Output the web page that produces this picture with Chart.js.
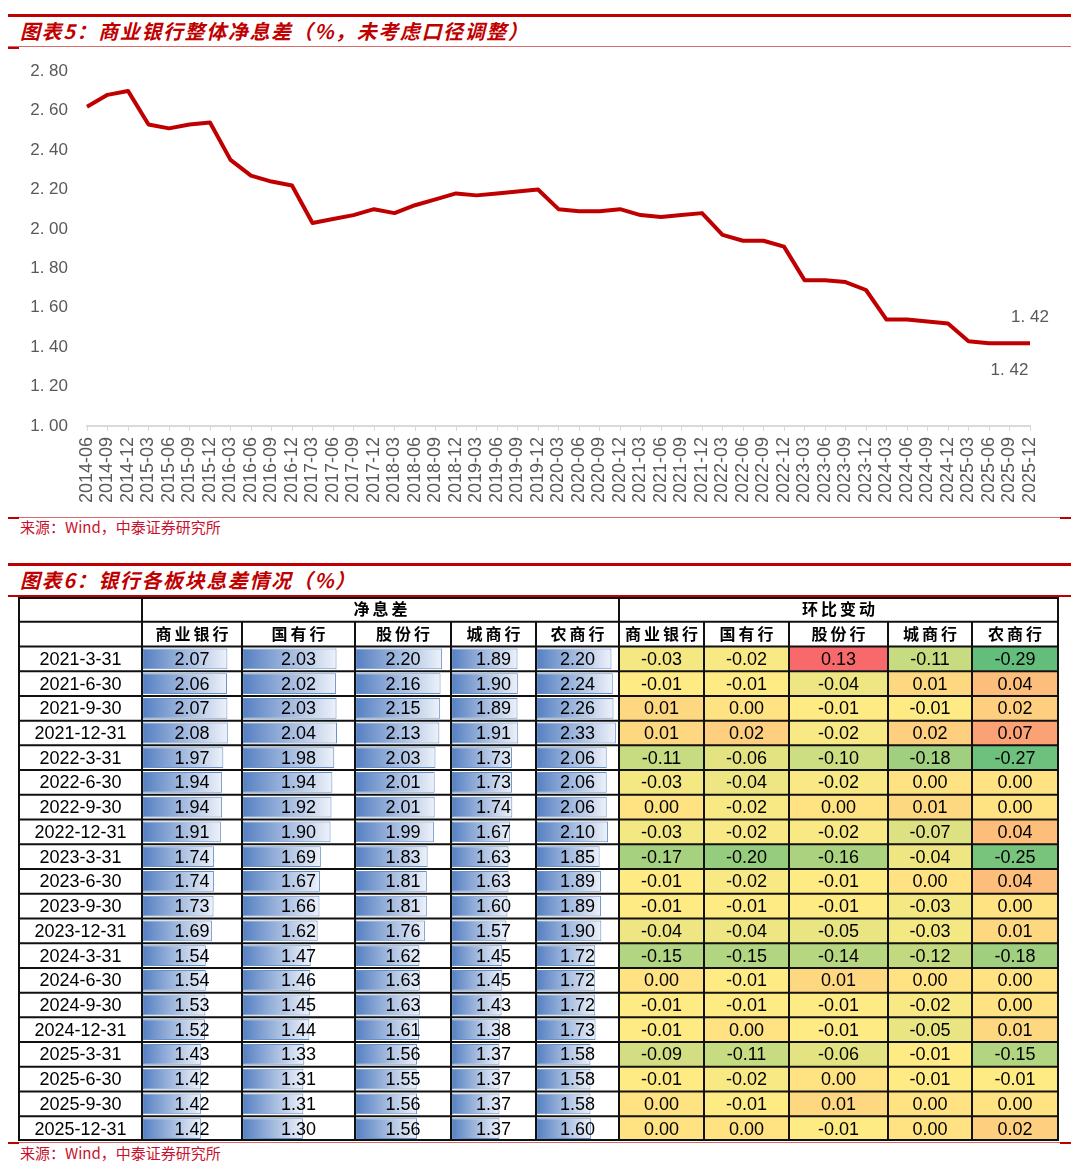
<!DOCTYPE html>
<html>
<head>
<meta charset="utf-8">
<script src="https://cdn.jsdelivr.net/npm/chart.js@4.4.1/dist/chart.umd.min.js"></script>
<style>
  body { margin: 0; background: #fff; width: 1080px; height: 1167px; position: relative; overflow: hidden; font-family: "Noto Sans CJK SC", sans-serif; }
  .thick { position: absolute; left: 8px; width: 1063px; height: 3px; background: #c00000; }
  .thin { position: absolute; left: 8px; width: 1063px; height: 1px; background: #d86a6a; }
  .dash { position: absolute; width: 11px; height: 2px; background: #c00000; }
  .title { position: absolute; left: 20px; font-size: 20px; letter-spacing: 1.6px; font-weight: bold; font-style: italic; color: #c00000; line-height: 1; white-space: nowrap; }
  .src { position: absolute; left: 20px; font-size: 15px; color: #c8102e; line-height: 1; white-space: nowrap; }
  #lineWrap { position: absolute; left: 0; top: 42px; width: 1080px; height: 473px; }
  #tableWrap { position: absolute; left: 0; top: 597px; width: 1080px; height: 544px; }
</style>
</head>
<body>
<div class="thick" style="top:14px"></div>
<div class="title" style="top:21px">图表5：商业银行整体净息差（%，未考虑口径调整）</div>
<div class="thin" style="top:46px"></div>
<div class="dash" style="left:8px;top:47px"></div>
<div id="lineWrap"><canvas id="lineChart"></canvas></div>
<div class="thin" style="top:517px"></div>
<div class="dash" style="left:8px;top:517px"></div>
<div class="dash" style="left:1060px;top:517px"></div>
<div class="src" style="top:519px">来源：Wind，中泰证券研究所</div>

<div class="thick" style="top:563px"></div>
<div class="title" style="top:570px">图表6：银行各板块息差情况（%）</div>
<div class="thick" style="top:595px;height:2px"></div>
<div id="tableWrap"><canvas id="tableChart"></canvas></div>
<div class="thin" style="top:1142px"></div>
<div class="dash" style="left:8px;top:1142px"></div>
<div class="dash" style="left:1060px;top:1142px"></div>
<div class="src" style="top:1145px">来源：Wind，中泰证券研究所</div>

<script>
// ---- chart 5: quarterly NIM of commercial banks ----
const quarters = [
  '2014-06', '2014-09', '2014-12',
  '2015-03', '2015-06', '2015-09', '2015-12',
  '2016-03', '2016-06', '2016-09', '2016-12',
  '2017-03', '2017-06', '2017-09', '2017-12',
  '2018-03', '2018-06', '2018-09', '2018-12',
  '2019-03', '2019-06', '2019-09', '2019-12',
  '2020-03', '2020-06', '2020-09', '2020-12',
  '2021-03', '2021-06', '2021-09', '2021-12',
  '2022-03', '2022-06', '2022-09', '2022-12',
  '2023-03', '2023-06', '2023-09', '2023-12',
  '2024-03', '2024-06', '2024-09', '2024-12',
  '2025-03', '2025-06', '2025-09', '2025-12'
];
const nimAll = [
  2.62, 2.68, 2.70,
  2.53, 2.51, 2.53, 2.54,
  2.35, 2.27, 2.24, 2.22,
  2.03, 2.05, 2.07, 2.10,
  2.08, 2.12, 2.15, 2.18,
  2.17, 2.18, 2.19, 2.20,
  2.10, 2.09, 2.09, 2.10,
  2.07, 2.06, 2.07, 2.08,
  1.97, 1.94, 1.94, 1.91,
  1.74, 1.74, 1.73, 1.69,
  1.54, 1.54, 1.53, 1.52,
  1.43, 1.42, 1.42, 1.42
];
const yTicks = { min: 1.0, max: 2.8, step: 0.2 };

// ---- chart 6: NIM by bank type ----
const dates = [
  '2021-3-31', '2021-6-30', '2021-9-30', '2021-12-31',
  '2022-3-31', '2022-6-30', '2022-9-30', '2022-12-31',
  '2023-3-31', '2023-6-30', '2023-9-30', '2023-12-31',
  '2024-3-31', '2024-6-30', '2024-9-30', '2024-12-31',
  '2025-3-31', '2025-6-30', '2025-9-30', '2025-12-31'
];
const bankTypes = ['商业银行', '国有行', '股份行', '城商行', '农商行'];
const groupNames = ['净息差', '环比变动'];

const nimCommercial = [2.07, 2.06, 2.07, 2.08, 1.97, 1.94, 1.94, 1.91, 1.74, 1.74, 1.73, 1.69, 1.54, 1.54, 1.53, 1.52, 1.43, 1.42, 1.42, 1.42];
const nimState      = [2.03, 2.02, 2.03, 2.04, 1.98, 1.94, 1.92, 1.90, 1.69, 1.67, 1.66, 1.62, 1.47, 1.46, 1.45, 1.44, 1.33, 1.31, 1.31, 1.30];
const nimJoint      = [2.20, 2.16, 2.15, 2.13, 2.03, 2.01, 2.01, 1.99, 1.83, 1.81, 1.81, 1.76, 1.62, 1.63, 1.63, 1.61, 1.56, 1.55, 1.56, 1.56];
const nimCity       = [1.89, 1.90, 1.89, 1.91, 1.73, 1.73, 1.74, 1.67, 1.63, 1.63, 1.60, 1.57, 1.45, 1.45, 1.43, 1.38, 1.37, 1.37, 1.37, 1.37];
const nimRural      = [2.20, 2.24, 2.26, 2.33, 2.06, 2.06, 2.06, 2.10, 1.85, 1.89, 1.89, 1.90, 1.72, 1.72, 1.72, 1.73, 1.58, 1.58, 1.58, 1.60];

const chgCommercial = [-0.03, -0.01, 0.01, 0.01, -0.11, -0.03, 0.00, -0.03, -0.17, -0.01, -0.01, -0.04, -0.15, 0.00, -0.01, -0.01, -0.09, -0.01, 0.00, 0.00];
const chgState      = [-0.02, -0.01, 0.00, 0.02, -0.06, -0.04, -0.02, -0.02, -0.20, -0.02, -0.01, -0.04, -0.15, -0.01, -0.01, 0.00, -0.11, -0.02, -0.01, 0.00];
const chgJoint      = [0.13, -0.04, -0.01, -0.02, -0.10, -0.02, 0.00, -0.02, -0.16, -0.01, -0.01, -0.05, -0.14, 0.01, -0.01, -0.01, -0.06, 0.00, 0.01, -0.01];
const chgCity       = [-0.11, 0.01, -0.01, 0.02, -0.18, 0.00, 0.01, -0.07, -0.04, 0.00, -0.03, -0.03, -0.12, 0.00, -0.02, -0.05, -0.01, -0.01, 0.00, 0.00];
const chgRural      = [-0.29, 0.04, 0.02, 0.07, -0.27, 0.00, 0.00, 0.04, -0.25, 0.04, 0.00, 0.01, -0.18, 0.00, 0.00, 0.01, -0.15, -0.01, 0.00, 0.02];

const nimCols = [nimCommercial, nimState, nimJoint, nimCity, nimRural];
const chgCols = [chgCommercial, chgState, chgJoint, chgCity, chgRural];

// table layout (pixel edges of the columns)
const colEdges = [19, 142, 242, 355, 451, 536, 619, 704, 789, 888, 972, 1058];
const rowKeys = ['group', 'bank'].concat(dates);

Chart.defaults.font.family = '"Liberation Sans", Arial, sans-serif';

const fmtTick = v => v.toFixed(2).replace('.', '. ');

const endLabels = {
  id: 'endLabels',
  afterDatasetsDraw(chart) {
    const pts = chart.getDatasetMeta(0).data;
    const n = nimAll.length;
    const ctx = chart.ctx;
    ctx.save();
    ctx.font = '17px "Liberation Sans"';
    ctx.fillStyle = '#595959';
    ctx.textAlign = 'center';
    ctx.textBaseline = 'middle';
    ctx.fillText(fmtTick(nimAll[n - 1]), pts[n - 1].x, pts[n - 1].y - 26);
    ctx.fillText(fmtTick(nimAll[n - 2]), pts[n - 2].x, pts[n - 2].y + 27);
    ctx.restore();
  }
};

new Chart(document.getElementById('lineChart'), {
  type: 'line',
  data: {
    labels: quarters,
    datasets: [{
      data: nimAll,
      borderColor: '#c00000',
      borderWidth: 4,
      pointRadius: 0,
      tension: 0,
      fill: false,
      borderJoinStyle: 'round'
    }]
  },
  options: {
    animation: false,
    responsive: true,
    maintainAspectRatio: false,
    layout: { padding: { top: 12, right: 50, left: 0, bottom: 0 } },
    plugins: { legend: { display: false }, tooltip: { enabled: false } },
    scales: {
      x: {
        offset: false,
        grid: { display: true, drawOnChartArea: false, drawTicks: true, tickLength: 5, color: '#d9d9d9' },
        border: { color: '#d9d9d9', width: 2 },
        ticks: { autoSkip: false, maxRotation: 90, minRotation: 90, color: '#595959', font: { size: 18 }, padding: 6 },
        afterFit: s => { s.height = 89; }
      },
      y: {
        min: yTicks.min,
        max: yTicks.max,
        grid: { display: false, drawTicks: false },
        border: { display: false },
        ticks: { stepSize: yTicks.step, color: '#595959', font: { size: 17 }, padding: 19, callback: v => fmtTick(v) },
        afterFit: s => { s.width = 87; }
      }
    }
  },
  plugins: [endLabels]
});

// ---- table ----
const allChg = chgCols.flat().slice().sort((a, b) => a - b);
const chgMin = allChg[0];
const chgMax = allChg[allChg.length - 1];
const chgMid = allChg[Math.floor(allChg.length / 2)];
const nimMax = Math.max(...nimCols.flat());

function mix(a, b, t) {
  return 'rgb(' + a.map((c, i) => Math.round(c + (b[i] - c) * t)).join(',') + ')';
}
const GREEN = [99, 190, 123], YELLOW = [255, 235, 132], RED = [248, 105, 107];
function heatColor(v) {
  if (v <= chgMid) return mix(YELLOW, GREEN, (chgMid - v) / (chgMid - chgMin));
  return mix(YELLOW, RED, (v - chgMid) / (chgMax - chgMid));
}

const datasets = [];
nimCols.forEach((col, k) => {
  const left = colEdges[k + 1];
  const width = colEdges[k + 2] - left;
  datasets.push({
    data: [null, null].concat(col.map(v => [left + 1, left + 1 + v / nimMax * width * 0.95])),
    grouped: false,
    barPercentage: 0.84,
    categoryPercentage: 1,
    borderColor: '#6691cb',
    borderWidth: 1,
    borderSkipped: false,
    backgroundColor: ctx => {
      const c = ctx.chart;
      const raw = ctx.raw;
      if (!c.chartArea || !raw) return '#6a93cb';
      const xs = c.scales.x;
      const g = c.ctx.createLinearGradient(xs.getPixelForValue(raw[0]), 0, xs.getPixelForValue(raw[1]), 0);
      g.addColorStop(0, '#5680c2');
      g.addColorStop(1, '#eef2fa');
      return g;
    }
  });
});
chgCols.forEach((col, k) => {
  const left = colEdges[k + 6];
  const right = colEdges[k + 7];
  datasets.push({
    data: [null, null].concat(col.map(() => [left, right])),
    grouped: false,
    barPercentage: 1,
    categoryPercentage: 1,
    borderWidth: 0,
    backgroundColor: [null, null].concat(col.map(heatColor))
  });
});

const tableGrid = {
  id: 'tableGrid',
  afterDatasetsDraw(chart) {
    const ctx = chart.ctx;
    const ys = chart.scales.y;
    const xs = chart.scales.x;
    const area = chart.chartArea;
    const h = (area.bottom - area.top) / rowKeys.length;
    const rowTop = i => ys.getPixelForValue(i) - h / 2;
    const X = v => xs.getPixelForValue(v);
    ctx.save();
    ctx.strokeStyle = '#111';
    ctx.lineWidth = 2;
    // horizontal lines
    for (let i = 0; i <= rowKeys.length; i++) {
      const y = Math.min(Math.max(rowTop(i), area.top + 1), area.bottom - 1);
      ctx.beginPath();
      ctx.moveTo(X(colEdges[0]) - 1, y);
      ctx.lineTo(X(colEdges[colEdges.length - 1]) + 1, y);
      ctx.stroke();
    }
    // vertical lines
    colEdges.forEach((e, j) => {
      const spanEdge = j === 0 || j === 1 || j === 6 || j === colEdges.length - 1;
      ctx.beginPath();
      ctx.moveTo(X(e), spanEdge ? area.top + 1 : rowTop(1));
      ctx.lineTo(X(e), area.bottom - 1);
      ctx.stroke();
    });
    // header text
    ctx.fillStyle = '#000';
    ctx.textAlign = 'center';
    ctx.textBaseline = 'middle';
    ctx.font = 'bold 16px "Noto Sans CJK SC"';
    ctx.letterSpacing = '3px';
    const yc = i => ys.getPixelForValue(i);
    ctx.fillText(groupNames[0], (X(colEdges[1]) + X(colEdges[6])) / 2 + 1.5, yc(0));
    ctx.fillText(groupNames[1], (X(colEdges[6]) + X(colEdges[11])) / 2 + 1.5, yc(0));
    for (let j = 0; j < 10; j++) {
      ctx.fillText(bankTypes[j % 5], (X(colEdges[j + 1]) + X(colEdges[j + 2])) / 2 + 1.5, yc(1));
    }
    ctx.letterSpacing = '0px';
    ctx.font = '18px "Liberation Sans"';
    dates.forEach((d, r) => {
      const y = yc(r + 2) + 1;
      ctx.fillText(d, (X(colEdges[0]) + X(colEdges[1])) / 2, y);
      nimCols.forEach((col, k) => {
        ctx.fillText(col[r].toFixed(2), (X(colEdges[k + 1]) + X(colEdges[k + 2])) / 2, y);
      });
      chgCols.forEach((col, k) => {
        ctx.fillText(col[r].toFixed(2), (X(colEdges[k + 6]) + X(colEdges[k + 7])) / 2, y);
      });
    });
    ctx.restore();
  }
};

new Chart(document.getElementById('tableChart'), {
  type: 'bar',
  data: { labels: rowKeys, datasets },
  options: {
    indexAxis: 'y',
    animation: false,
    responsive: true,
    maintainAspectRatio: false,
    layout: { padding: 0 },
    plugins: { legend: { display: false }, tooltip: { enabled: false } },
    scales: {
      x: { type: 'linear', min: 0, max: 1080, display: false },
      y: { type: 'category', display: false, offset: true }
    }
  },
  plugins: [tableGrid]
});
</script>
</body>
</html>
